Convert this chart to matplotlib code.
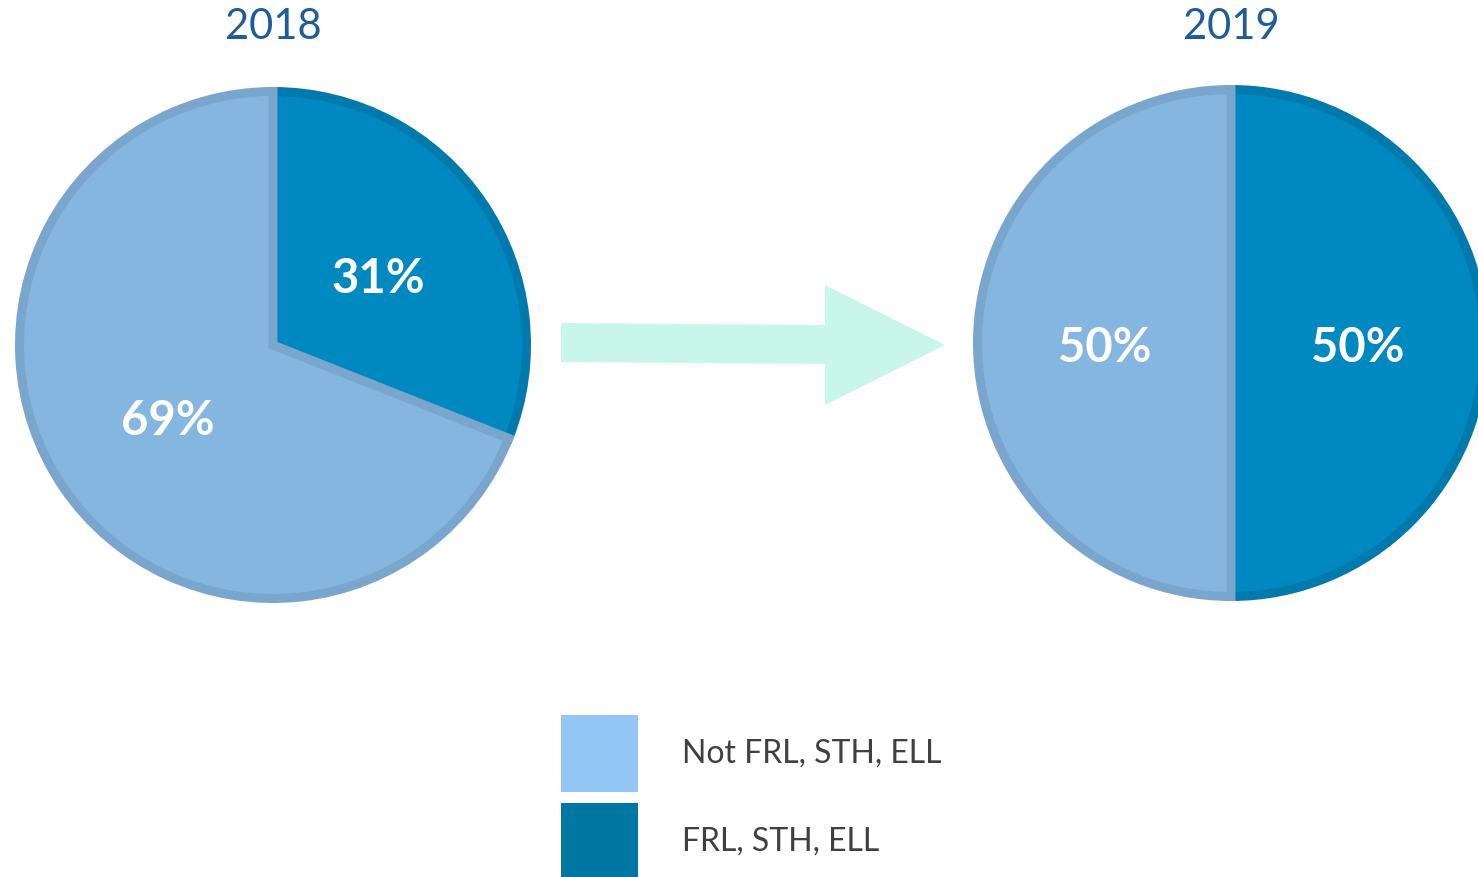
import matplotlib
matplotlib.use("agg")
import matplotlib.pyplot as plt
from matplotlib.patches import Polygon, Rectangle

years = ["2018", "2019"]
categories = ["Not FRL, STH, ELL", "FRL, STH, ELL"]
share_2018 = [69, 31]
share_2019 = [50, 50]

face_colors = ["#85B6DF", "#0088C0"]
edge_colors = ["#7AA5CC", "#0079AD"]
legend_colors = ["#93C6F4", "#0076A3"]
title_color = "#1F5C99"
text_color = "#404040"

W, H = 1478, 877
plt.rcParams["font.family"] = ["Lato", "DejaVu Sans"]

fig = plt.figure(figsize=(W / 100, H / 100), dpi=100)
ax = fig.add_axes([0, 0, 1, 1])

radius = 258
edge_px = 9
centers = [(273, H - 345), (1231, H - 343)]

for year, shares, center in zip(years, [share_2018, share_2019], centers):
    # dark share starts at 12 o'clock and runs clockwise
    wedges, _, autotexts = ax.pie(
        shares[::-1],
        colors=face_colors[::-1],
        center=center,
        radius=radius - edge_px / 2,
        startangle=90,
        counterclock=False,
        autopct=lambda p: f"{p:.0f}%",
        pctdistance=0.5,
        frame=True,
        wedgeprops=dict(linewidth=edge_px * 72 / 100),
        textprops=dict(color="white", fontsize=34, fontweight="bold"),
    )
    for wedge, ec in zip(wedges, edge_colors[::-1]):
        wedge.set_edgecolor(ec)
        wedge.set_joinstyle("miter")
    for t in autotexts:
        x, y = t.get_position()
        t.set_position((x, y - 5))
    ax.text(center[0], H - 27, year, ha="center", va="center",
            fontsize=30, color=title_color)

# arrow between the pies
arrow = Polygon(
    [(561, H - 323), (825, H - 325), (825, H - 285), (945, H - 345),
     (825, H - 405), (825, H - 364), (561, H - 362)],
    closed=True, facecolor="#C8F6EA", edgecolor="none",
)
ax.add_patch(arrow)

# legend
for i, (label, color) in enumerate(zip(categories, legend_colors)):
    top = 715 + i * 88
    ax.add_patch(Rectangle((561, H - top - 77), 77, 77,
                           facecolor=color, edgecolor="none"))
    ax.text(682, H - top - 39, label, ha="left", va="center",
            fontsize=23, color=text_color)

ax.set_xlim(0, W)
ax.set_ylim(0, H)
ax.set_aspect("equal")
ax.axis("off")

fig.savefig("out.png", dpi=100)
